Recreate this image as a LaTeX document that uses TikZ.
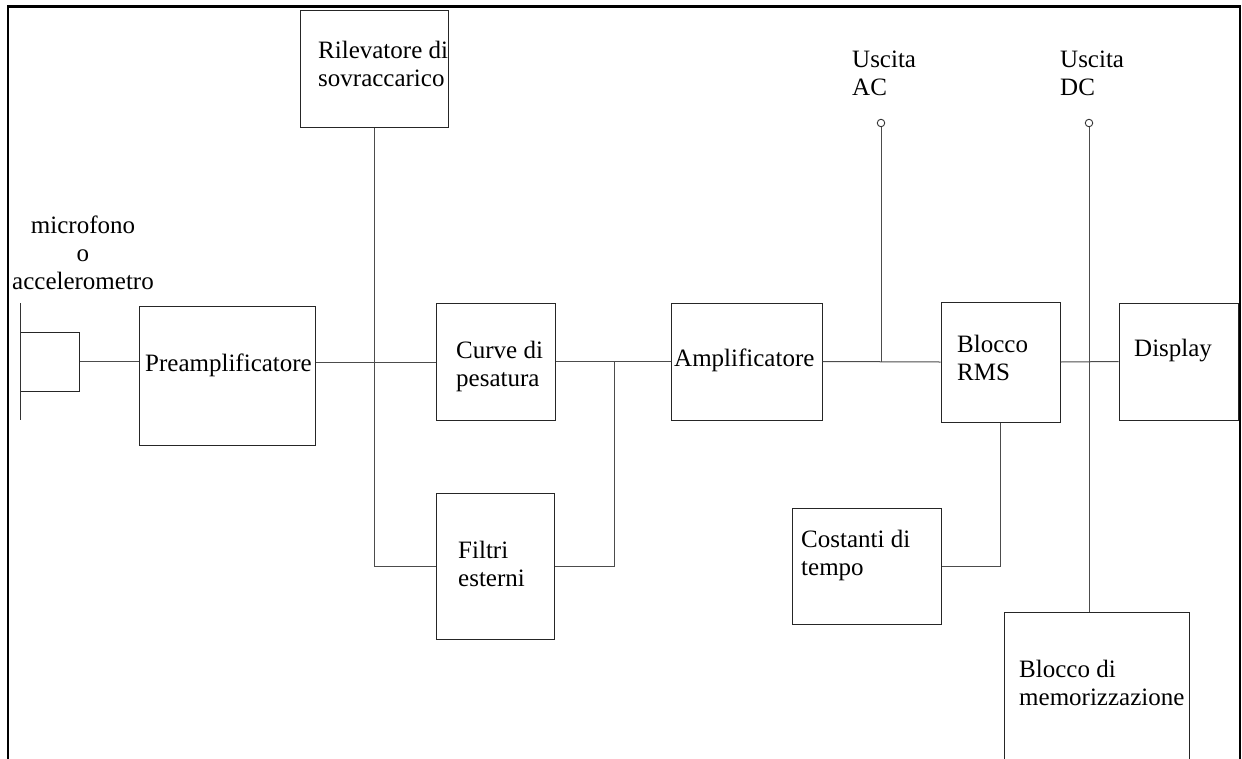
\documentclass[tikz,border=0pt]{standalone}
\usepackage{fontspec}
\setmainfont{Liberation Serif}
\begin{document}
\begin{tikzpicture}[x=1pt,y=-1pt,
  box/.style={draw=black!85, line width=1pt, rectangle, inner sep=0pt},
  conn/.style={draw=black!70, line width=1pt},
  lbl/.style={inner sep=0pt, anchor=north west, align=left, font=\fontsize{25}{28}\selectfont},
  term/.style={circle, draw=black!80, fill=white, line width=0.9pt, inner sep=0pt, minimum size=7.5pt},
  frameline/.style={draw=black, line width=2.5pt}]
\useasboundingbox (0,0) rectangle (1242,758);
\clip (0,0) rectangle (1242,758);

% frame
\coordinate (f1) at (8,760);
\coordinate (f2) at (8,6.5);
\coordinate (f3) at (1240,6.5);
\coordinate (f4) at (1240,760);
\draw[frameline] (f1) -- (f2) -- (f3) -- (f4);

% boxes
\node[box, minimum width=59pt, minimum height=59pt] (mic) at (49.5,361.5) {};
\node[box, minimum width=176pt, minimum height=139pt] (pre) at (227,375.5) {};
\node[box, minimum width=148pt, minimum height=117pt] (ril) at (374,68.5) {};
\node[box, minimum width=119pt, minimum height=117pt] (curve) at (495.5,361.5) {};
\node[box, minimum width=118pt, minimum height=146pt] (filt) at (495,566) {};
\node[box, minimum width=151pt, minimum height=117pt] (amp) at (746.5,361.5) {};
\node[box, minimum width=119pt, minimum height=120pt] (rms) at (1000.5,362) {};
\node[box, minimum width=119pt, minimum height=117pt] (disp) at (1178.5,361.5) {};
\node[box, minimum width=149pt, minimum height=116pt] (cost) at (866.5,566) {};
\node[box, minimum width=185pt, minimum height=168pt] (mem) at (1096.5,696) {};

% texts
\node[lbl, anchor=north, align=center] (tmic) at (83,216) {microfono\\o\\accelerometro};
\node[lbl] (tpre) at (145,354) {Preamplificatore};
\node[lbl] (tril) at (318,41) {Rilevatore di\\sovraccarico};
\node[lbl] (tcurve) at (456,341) {Curve di\\pesatura};
\node[lbl] (tamp) at (674,349) {Amplificatore};
\node[lbl] (tfilt) at (458,541) {Filtri\\esterni};
\node[lbl] (tac) at (852,51) {Uscita\\AC};
\node[lbl] (tdc) at (1060,51) {Uscita\\DC};
\node[lbl] (trms) at (957,335) {Blocco\\RMS};
\node[lbl] (tdisp) at (1134,339) {Display};
\node[lbl] (tcost) at (801,530) {Costanti di\\tempo};
\node[lbl] (tmem) at (1019,660) {Blocco di\\memorizzazione};

% microphone bar
\coordinate (mt) at (20,303);
\coordinate (mb) at (20,420);
\draw[conn, draw=black!80] (mt) -- (mb);

% connectors
\coordinate (j1) at (375,362);
\coordinate (j2) at (614,362);
\draw[conn] (mic.east) -- (mic.east -| pre.west);
\draw[conn] (pre.east |- j1) -- (curve.west |- j1);
\draw[conn] (ril.south) |- (filt.west);
\draw[conn] (curve.east) -- (amp.west);
\draw[conn] (j2) |- (filt.east);
\draw[conn] (amp.east) -- (rms.west);
\draw[conn] (rms.east) -- (disp.west);
\draw[conn] (rms.south) |- (cost.east);

% outputs
\node[term] (acT) at (881,123) {};
\node[term] (dcT) at (1089,123) {};
\draw[conn] (acT.south) -- (acT |- amp.east);
\draw[conn] (dcT.south) -- (dcT |- mem.north);
\end{tikzpicture}
\end{document}
